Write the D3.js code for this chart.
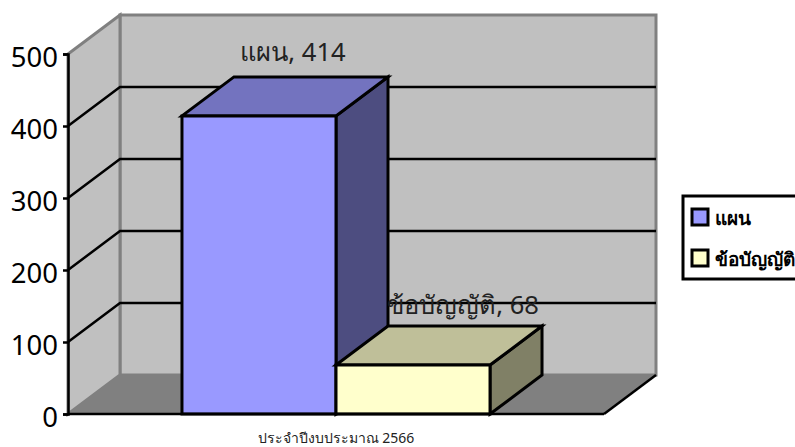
<!DOCTYPE html>
<html>
<head>
<meta charset="utf-8">
<script src="https://cdn.jsdelivr.net/npm/d3@7"></script>
<style>
  html, body { margin: 0; padding: 0; background: #fff; overflow: hidden; }
  text { font-family: "Noto Sans", "DejaVu Sans", sans-serif; fill: #000; }
</style>
</head>
<body>
<div class="chart"></div>
<script>
const seriesNames = ["แผน", "ข้อบัญญัติ"];
const seriesValues = [414, 68];
const categoryLabel = "ประจำปีงบประมาณ 2566";
const yTicks = [0, 100, 200, 300, 400, 500];
const faceColors = ["#9999ff", "#ffffcc"];
const topColors = ["#7373bf", "#bfbf99"];
const sideColors = ["#4d4d80", "#808066"];

const width = 795;
const height = 447;
const depthX = 52;
const depthY = -39;

const svg = d3.select(".chart").append("svg")
  .attr("width", width)
  .attr("height", height)
  .style("display", "block");

const yScale = d3.scaleLinear().domain([0, 500]).range([414, 54]);
const xScale = d3.scaleBand()
  .domain(seriesNames)
  .range([68, 604])
  .paddingInner(0)
  .paddingOuter(0.74);

const x0 = xScale.range()[0];
const x1 = xScale.range()[1];
const y0 = yScale(0);
const yTop = yScale(500);

function poly(points, fill, stroke, strokeWidth) {
  return svg.append("polygon")
    .attr("points", points.map((p) => p.join(",")).join(" "))
    .attr("fill", fill)
    .attr("stroke", stroke)
    .attr("stroke-width", strokeWidth)
    .attr("stroke-linejoin", "miter");
}

// Walls and floor
poly([[x0, y0], [x0 + depthX, y0 + depthY], [x1 + depthX, y0 + depthY], [x1, y0]], "#808080", "none", 0);
poly([[x0 + depthX, yTop + depthY], [x1 + depthX, yTop + depthY], [x1 + depthX, y0 + depthY], [x0 + depthX, y0 + depthY]], "#c0c0c0", "#808080", 3);
poly([[x0, y0], [x0, yTop], [x0 + depthX, yTop + depthY], [x0 + depthX, y0 + depthY]], "#c0c0c0", "#808080", 3);
svg.append("line")
  .attr("x1", x0).attr("y1", y0)
  .attr("x2", x0 + depthX).attr("y2", y0 + depthY)
  .attr("stroke", "#808080").attr("stroke-width", 1);

// Gridlines
yTicks.filter((t) => t > 0 && t < 500).forEach((t) => {
  const y = yScale(t);
  svg.append("polyline")
    .attr("points", `${x0},${y} ${x0 + depthX},${y + depthY} ${x1 + depthX},${y + depthY}`)
    .attr("fill", "none")
    .attr("stroke", "#000")
    .attr("stroke-width", 2.5);
});

// Value axis
const yAxis = svg.append("g")
  .attr("transform", `translate(${x0},0)`)
  .call(d3.axisLeft(yScale).tickValues(yTicks).tickSize(5).tickPadding(5).tickFormat(d3.format("d")));
yAxis.select(".domain").attr("stroke", "#000").attr("stroke-width", 2.5);
yAxis.selectAll(".tick line").attr("stroke", "#000").attr("stroke-width", 2.5);
yAxis.selectAll(".tick text")
  .style("font-size", "27.5px")
  .style("font-family", '"Noto Sans"')
  .attr("fill", "#000")
  .attr("dy", "0.44em");

// Bars
seriesNames.forEach((name, i) => {
  const left = xScale(name);
  const right = left + xScale.bandwidth();
  const top = yScale(seriesValues[i]);
  poly([[right, y0], [right + depthX, y0 + depthY], [right + depthX, top + depthY], [right, top]], sideColors[i], "#000", 3);
  poly([[left, top], [left + depthX, top + depthY], [right + depthX, top + depthY], [right, top]], topColors[i], "#000", 3);
  poly([[left, y0], [left, top], [right, top], [right, y0]], faceColors[i], "#000", 3);
});

// Floor front edge
svg.append("line")
  .attr("x1", x0).attr("y1", y0).attr("x2", x1).attr("y2", y0)
  .attr("stroke", "#000").attr("stroke-width", 2.5);
svg.append("line")
  .attr("x1", x1).attr("y1", y0).attr("x2", x1 + depthX).attr("y2", y0 + depthY)
  .attr("stroke", "#000").attr("stroke-width", 2.5);

// Data labels, the second one sits over the gridline
const labelShift = [34, 50];
const labelRise = [16, 12];
seriesNames.forEach((name, i) => {
  svg.append("text")
    .attr("x", xScale(name) + xScale.bandwidth() / 2 + labelShift[i])
    .attr("y", yScale(seriesValues[i]) + depthY - labelRise[i])
    .attr("text-anchor", "middle")
    .style("font-size", "25.5px")
    .style("fill", "#222")
    .text(`${name}, ${seriesValues[i]}`);
});

// Category label
svg.append("text")
  .attr("x", 336)
  .attr("y", 443)
  .attr("text-anchor", "middle")
  .style("font-size", "14px")
  .style("fill", "#222")
  .text(categoryLabel);

// Legend
const legend = svg.append("g");
legend.append("rect")
  .attr("x", 683).attr("y", 196).attr("width", 125).attr("height", 83)
  .attr("fill", "#fff").attr("stroke", "#000").attr("stroke-width", 3);
seriesNames.forEach((name, i) => {
  const y = 209 + i * 41;
  legend.append("rect")
    .attr("x", 692).attr("y", y).attr("width", 16).attr("height", 16)
    .attr("fill", faceColors[i]).attr("stroke", "#000").attr("stroke-width", 3);
  legend.append("text")
    .attr("x", 715).attr("y", y + 16)
    .style("font-size", "19px")
    .style("font-weight", "bold")
    .text(name);
});
</script>
</body>
</html>
